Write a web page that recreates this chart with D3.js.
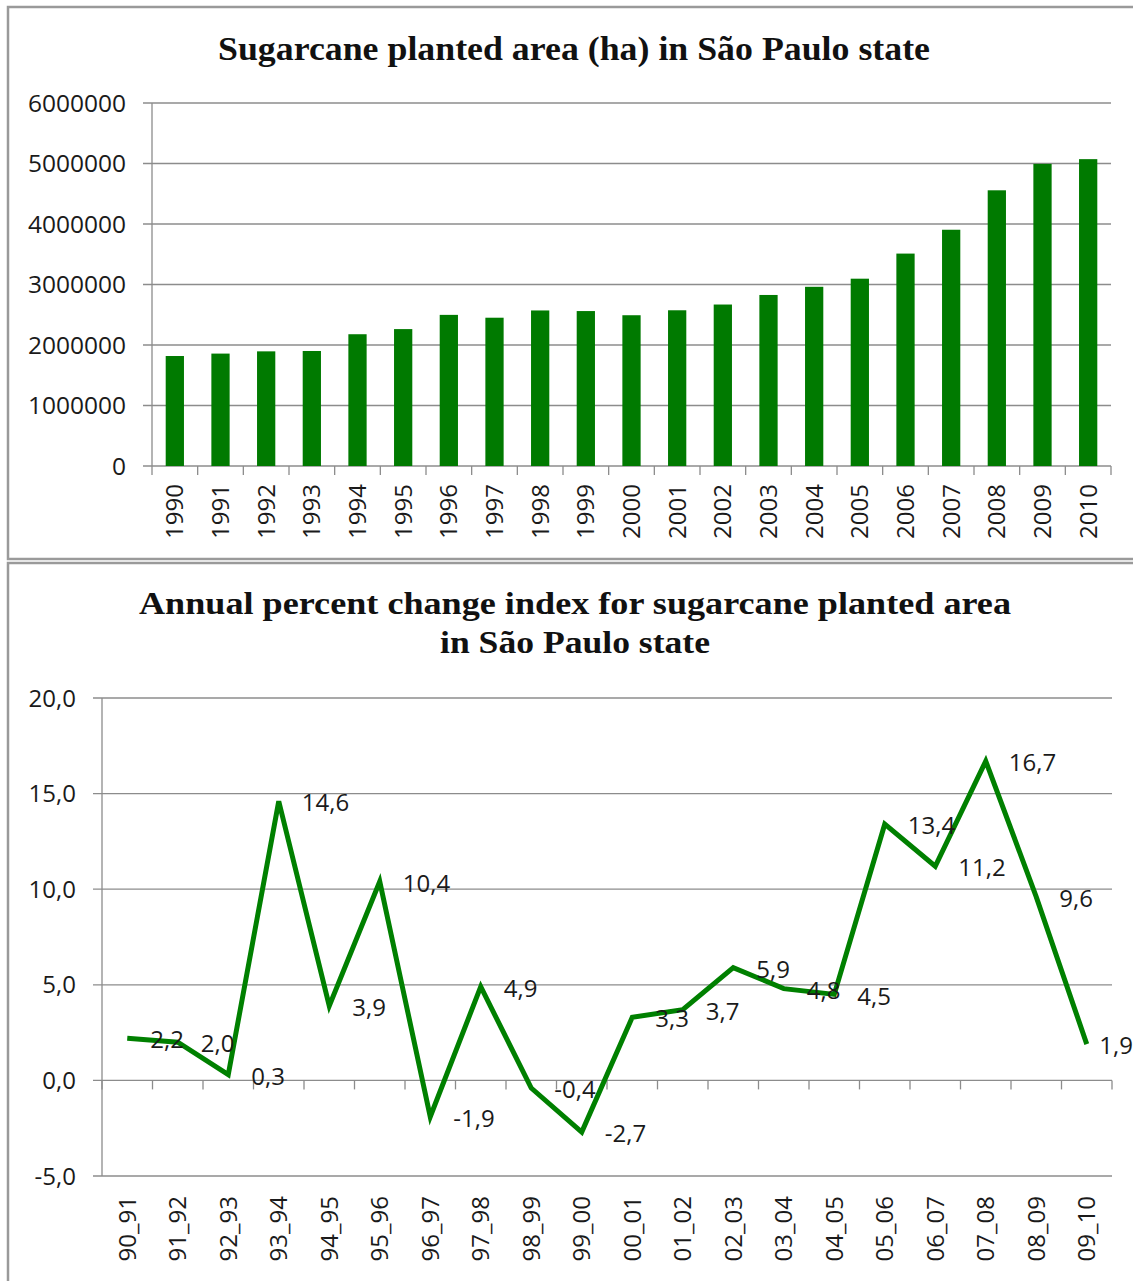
<!DOCTYPE html>
<html><head><meta charset="utf-8">
<script src="https://cdn.jsdelivr.net/npm/d3@7"></script>
<style>body{margin:0;background:#fff}</style></head>
<body><svg id="c" width="1133" height="1281"></svg>
<script>
const years = ["1990","1991","1992","1993","1994","1995","1996","1997","1998","1999","2000","2001","2002","2003","2004","2005","2006","2007","2008","2009","2010"];
const area = [1818000,1858000,1895000,1901000,2178000,2263000,2498000,2451000,2571000,2561000,2492000,2574000,2669000,2827000,2962000,3096000,3511000,3905000,4557000,4994000,5072000];
const areaTicks = [0,1000000,2000000,3000000,4000000,5000000,6000000];
const periods = ["90_91","91_92","92_93","93_94","94_95","95_96","96_97","97_98","98_99","99_00","00_01","01_02","02_03","03_04","04_05","05_06","06_07","07_08","08_09","09_10"];
const change = [2.2,2.0,0.3,14.6,3.9,10.4,-1.9,4.9,-0.4,-2.7,3.3,3.7,5.9,4.8,4.5,13.4,11.2,16.7,9.6,1.9];
const changeTicks = [-5,0,5,10,15,20];

const svg = d3.select("#c");
const GRID = "#8c8c8c", TXT = "#1a1a1a", GREEN = "#007a00";
const sans = "'Open Sans', 'Noto Sans', sans-serif";
const serif = "'Liberation Serif', 'DejaVu Serif', serif";
const fmt1 = v => d3.format(".1f")(v).replace(".",",").replace("\u2212","-");

// panels
svg.append("rect").attr("x",8).attr("y",7).attr("width",1200).attr("height",552)
  .attr("fill","none").attr("stroke","#9a9a9a").attr("stroke-width",2.5);
svg.append("rect").attr("x",8).attr("y",563).attr("width",1200).attr("height",800)
  .attr("fill","none").attr("stroke","#9a9a9a").attr("stroke-width",2.5);

// ---------- Top chart ----------
const t = svg.append("g");
t.append("text").attr("x",574).attr("y",60).attr("text-anchor","middle")
  .attr("font-family",serif).attr("font-weight","bold").attr("font-size",33)
  .attr("textLength",712).attr("lengthAdjust","spacingAndGlyphs").attr("fill","#111")
  .text("Sugarcane planted area (ha) in São Paulo state");

const x1 = d3.scaleBand().domain(years).range([152,1111]).paddingInner(0.6).paddingOuter(0.3);
const y1 = d3.scaleLinear().domain([0,6000000]).range([466,103]);

areaTicks.forEach(v=>{
  t.append("line").attr("x1",143).attr("x2",1111).attr("y1",y1(v)).attr("y2",y1(v))
    .attr("stroke",GRID).attr("stroke-width",1.3);
  t.append("text").attr("x",126).attr("y",y1(v)).attr("dy","0.36em").attr("text-anchor","end")
    .attr("font-family",sans).attr("font-size",24.5).attr("fill",TXT).text(d3.format("d")(v));
});
t.append("line").attr("x1",152).attr("x2",152).attr("y1",y1(6000000)).attr("y2",y1(0))
  .attr("stroke",GRID).attr("stroke-width",1.3);
for(let i=0;i<=years.length;i++){
  const xx = x1.range()[0] + i*x1.step();
  t.append("line").attr("x1",xx).attr("x2",xx).attr("y1",y1(0)).attr("y2",y1(0)+9)
    .attr("stroke",GRID).attr("stroke-width",1.3);
}
t.selectAll("rect.bar").data(years).join("rect").attr("class","bar")
  .attr("x",d=>x1(d)).attr("width",x1.bandwidth())
  .attr("y",(d,i)=>y1(area[i])).attr("height",(d,i)=>y1(0)-y1(area[i]))
  .attr("fill",GREEN);
t.selectAll("text.xl").data(years).join("text").attr("class","xl")
  .attr("transform",d=>`translate(${x1(d)+x1.bandwidth()/2},484) rotate(-90)`)
  .attr("text-anchor","end").attr("dy","0.36em")
  .attr("font-family",sans).attr("font-size",24).attr("fill",TXT).text(d=>d);

// ---------- Bottom chart ----------
const b = svg.append("g");
b.append("text").attr("x",575).attr("y",614).attr("text-anchor","middle")
  .attr("font-family",serif).attr("font-weight","bold").attr("font-size",31)
  .attr("textLength",872).attr("lengthAdjust","spacingAndGlyphs").attr("fill","#111")
  .text("Annual percent change index for sugarcane planted area");
b.append("text").attr("x",575).attr("y",653).attr("text-anchor","middle")
  .attr("font-family",serif).attr("font-weight","bold").attr("font-size",31)
  .attr("textLength",270).attr("lengthAdjust","spacingAndGlyphs").attr("fill","#111")
  .text("in São Paulo state");

const x2 = d3.scalePoint().domain(periods).range([102,1112]).padding(0.5);
const step2 = x2.step();
const y2 = d3.scaleLinear().domain([-5,20]).range([1176,698]);

changeTicks.forEach(v=>{
  b.append("line").attr("x1",93).attr("x2",1112).attr("y1",y2(v)).attr("y2",y2(v))
    .attr("stroke",GRID).attr("stroke-width",1.3);
  b.append("text").attr("x",76).attr("y",y2(v)).attr("dy","0.36em").attr("text-anchor","end")
    .attr("font-family",sans).attr("font-size",24).attr("fill",TXT).text(fmt1(v));
});
b.append("line").attr("x1",102).attr("x2",102).attr("y1",y2(20)).attr("y2",y2(-5))
  .attr("stroke",GRID).attr("stroke-width",1.3);
for(let i=0;i<=periods.length;i++){
  const xx = 102 + i*step2;
  b.append("line").attr("x1",xx).attr("x2",xx).attr("y1",y2(0)).attr("y2",y2(0)+9)
    .attr("stroke",GRID).attr("stroke-width",1.3);
}
const line = d3.line().x((d,i)=>x2(periods[i])).y(d=>y2(d));
b.append("path").datum(change).attr("d",line).attr("fill","none")
  .attr("stroke","#008000").attr("stroke-width",5).attr("stroke-linejoin","miter");

b.selectAll("text.dl").data(change).join("text").attr("class","dl")
  .attr("x",(d,i)=>x2(periods[i])+23).attr("y",d=>y2(d)+1.5).attr("dy","0.36em")
  .attr("font-family",sans).attr("font-size",24).attr("fill",TXT)
  .text(d=>fmt1(d))
  .each(function(){
    const w = this.getComputedTextLength();
    const xv = +this.getAttribute("x");
    if(xv + w > 1133) this.setAttribute("x", 1133 - w);
  });

b.selectAll("text.xl").data(periods).join("text").attr("class","xl")
  .attr("transform",d=>`translate(${x2(d)},1196) rotate(-90)`)
  .attr("text-anchor","end").attr("dy","0.36em")
  .attr("font-family",sans).attr("font-size",24).attr("fill",TXT).text(d=>d);
</script></body></html>
